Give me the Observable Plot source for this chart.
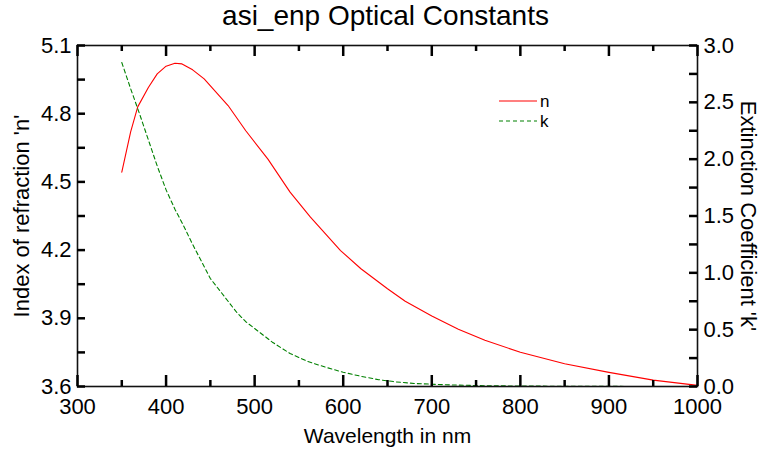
<!DOCTYPE html>
<html>
<head>
<meta charset="utf-8">
<script src="https://cdn.jsdelivr.net/npm/d3@7"></script>
<script src="https://cdn.jsdelivr.net/npm/@observablehq/plot@0.6"></script>
<style>
  html, body { margin: 0; padding: 0; background: #fff; }
  #wrap { position: relative; width: 763px; height: 452px; font-family: "Liberation Sans", Arial, sans-serif; }
  #title { position: absolute; left: 0; width: 771px; top: 0px; text-align: center; font-size: 28px; color: #000; }
  #legend { position: absolute; left: 495px; top: 90px; }
</style>
</head>
<body>
<div id="wrap">
  <div id="title">asi_enp Optical Constants</div>
  <div id="chart"></div>
  <svg id="legend" width="70" height="44"></svg>
</div>
<script>
// Refractive index n versus wavelength (nm)
const nWavelength = [350, 360, 368, 380, 390, 400, 410, 418, 430, 443, 470, 490, 515, 540, 563, 597, 620, 650, 670, 700, 730, 760, 800, 850, 900, 950, 1000];
const nValues     = [4.543, 4.72, 4.83, 4.915, 4.975, 5.009, 5.022, 5.019, 4.993, 4.953, 4.836, 4.725, 4.60, 4.455, 4.345, 4.198, 4.118, 4.030, 3.975, 3.910, 3.852, 3.803, 3.751, 3.700, 3.662, 3.628, 3.605];

// Extinction coefficient k versus wavelength (nm)
const kWavelength = [350, 360, 370, 380, 390, 400, 410, 420, 430, 440, 450, 460, 470, 480, 490, 500, 520, 540, 560, 580, 600, 620, 640, 660, 680, 700, 730, 760, 800, 850, 900, 950, 1000];
const kValues     = [2.85, 2.62, 2.40, 2.17, 1.94, 1.73, 1.56, 1.41, 1.25, 1.10, 0.95, 0.85, 0.75, 0.65, 0.57, 0.51, 0.39, 0.29, 0.22, 0.17, 0.125, 0.09, 0.06, 0.04, 0.027, 0.02, 0.012, 0.007, 0.004, 0.002, 0.001, 0, 0];

// Axis ticks
const xTicks = [300, 400, 500, 600, 700, 800, 900, 1000];
const xMinorTicks = [350, 450, 550, 650, 750, 850, 950];
const nTicks = [3.6, 3.9, 4.2, 4.5, 4.8, 5.1];
const nMinorTicks = [3.75, 4.05, 4.35, 4.65, 4.95];
const kTicks = [0.0, 0.5, 1.0, 1.5, 2.0, 2.5, 3.0];
const kMinorTicks = [0.25, 0.75, 1.25, 1.75, 2.25, 2.75];

const nDomain = [3.6, 5.1];
const kDomain = [0, 3.0];
// map k onto the n scale so both curves share one y scale
const kToN = d3.scaleLinear().domain(kDomain).range(nDomain);

const nData = nWavelength.map((w, i) => ({w, v: nValues[i]}));
const kData = kWavelength.map((w, i) => ({w, v: kToN(kValues[i])}));

const W = 763, H = 452;
const M = {left: 77, right: 66, top: 45, bottom: 66};
const plotW = W - M.left - M.right;
const plotH = H - M.top - M.bottom;

const font = 22;
const tickStyle = {stroke: "#000", strokeWidth: 2.5};
// short inward ticks: rules inset from the far side of the frame
const ticks = [
  Plot.ruleX(xTicks, {x: d => d, insetTop: plotH - 11, ...tickStyle}),
  Plot.ruleX(xMinorTicks, {x: d => d, insetTop: plotH - 6, ...tickStyle}),
  Plot.ruleX(xTicks, {x: d => d, insetBottom: plotH - 11, ...tickStyle}),
  Plot.ruleX(xMinorTicks, {x: d => d, insetBottom: plotH - 6, ...tickStyle}),
  Plot.ruleY(nTicks.concat(nMinorTicks), {y: d => d, insetRight: plotW - 8, ...tickStyle}),
  Plot.ruleY(kTicks.concat(kMinorTicks), {y: d => kToN(d), insetLeft: plotW - 8, ...tickStyle})
];

const chart = Plot.plot({
  width: W,
  height: H,
  marginLeft: M.left,
  marginRight: M.right,
  marginTop: M.top,
  marginBottom: M.bottom,
  style: {fontFamily: "Liberation Sans, Arial, sans-serif", color: "#000", background: "#fff"},
  x: {domain: [300, 1000]},
  y: {domain: nDomain},
  marks: [
    Plot.line(nData, {x: "w", y: "v", stroke: "#ff0000", strokeWidth: 1.1}),
    Plot.line(kData, {x: "w", y: "v", stroke: "#008000", strokeWidth: 1.1, strokeDasharray: "4,3"}),
    Plot.frame({stroke: "#111", strokeWidth: 1.6}),
    Plot.axisX({ticks: xTicks, tickSize: 0, tickPadding: 12, fontSize: font, tickFormat: d => String(d), label: null}),
    Plot.axisY({anchor: "left", ticks: nTicks, tickSize: 0, tickPadding: 6, fontSize: font, tickFormat: d => d.toFixed(1), label: null}),
    Plot.axisY({anchor: "right", ticks: kTicks.map(kToN), tickSize: 0, tickPadding: 6, fontSize: font,
      tickFormat: d => kToN.invert(d).toFixed(1), label: null}),
    // axis titles
    Plot.text(["Wavelength in nm"], {frameAnchor: "bottom", dy: 56, fontSize: 21, text: d => d}),
    Plot.text(["Index of refraction 'n'"], {frameAnchor: "left", dx: -56, rotate: -90, textAnchor: "middle", fontSize: 22, text: d => d}),
    Plot.text(["Extinction Coefficient 'k'"], {frameAnchor: "right", dx: 51, rotate: 90, textAnchor: "middle", fontSize: 22, text: d => d}),
    ...ticks
  ]
});
document.getElementById("chart").appendChild(chart);

// legend
const legendItems = [
  {name: "n", color: "#ff0000", dash: null},
  {name: "k", color: "#008000", dash: "4,3"}
];
const lg = d3.select("#legend");
legendItems.forEach((d, i) => {
  const y = 11 + i * 20;
  lg.append("line").attr("x1", 4).attr("x2", 42).attr("y1", y).attr("y2", y)
    .attr("stroke", d.color).attr("stroke-width", 1.2).attr("stroke-dasharray", d.dash);
  lg.append("text").attr("x", 45).attr("y", y + 6).attr("font-size", 17)
    .attr("font-family", "Liberation Sans, Arial, sans-serif").text(d.name);
});
</script>
</body>
</html>
